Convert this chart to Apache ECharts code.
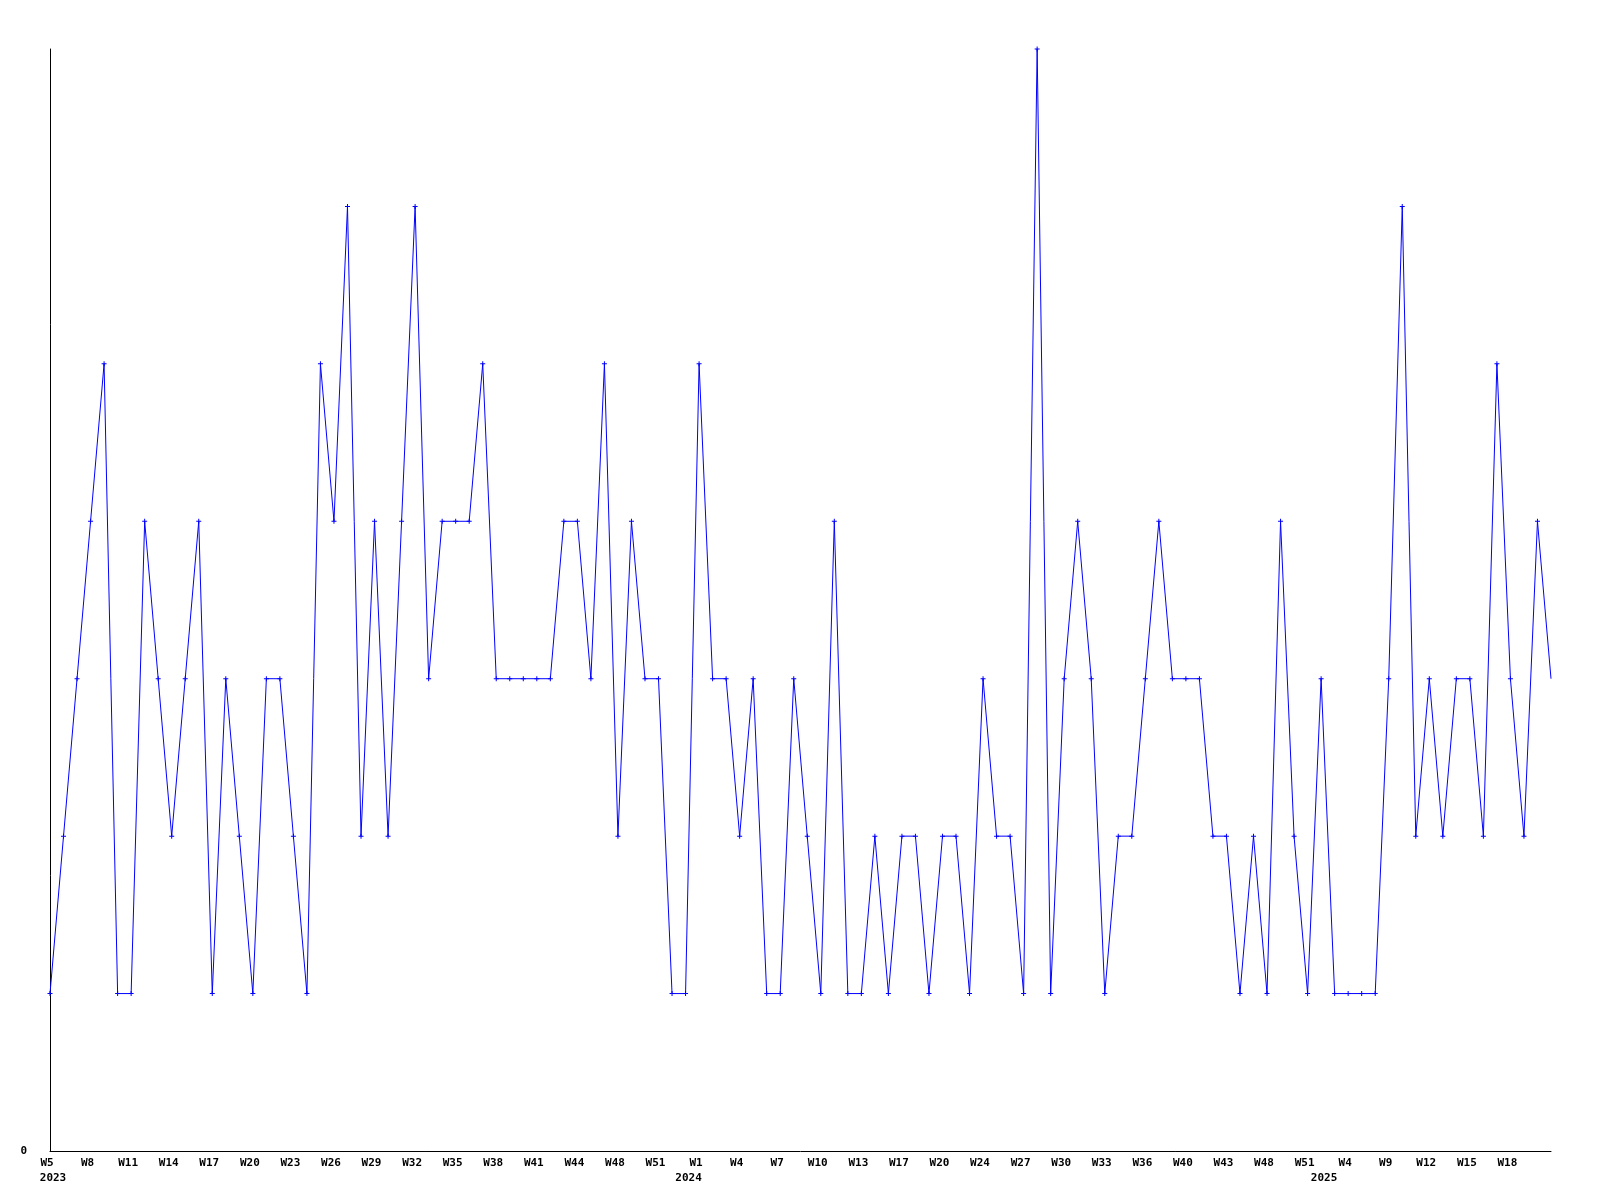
<!DOCTYPE html>
<html>
<head>
<meta charset="utf-8">
<script src="https://cdn.jsdelivr.net/npm/echarts@6/dist/echarts.min.js"></script>
<style>
html,body{margin:0;padding:0;background:#fff;}
#chart{width:1600px;height:1200px;}
</style>
</head>
<body>
<div id="chart"></div>
<script>
// Series values, one per point (112 points)
const values = [
  1,2,3,4,5,1,1,4,3,2,3,4,1,3,2,1,3,3,2,1,
  5,4,6,2,4,2,4,6,3,4,4,4,5,3,3,3,3,3,4,4,
  3,5,2,4,3,3,1,1,5,3,3,2,3,1,1,3,2,1,4,1,
  1,2,1,2,2,1,2,2,1,3,2,2,1,7,1,3,4,3,1,2,
  2,3,4,3,3,3,2,2,1,2,1,4,2,1,3,1,1,1,1,3,
  6,2,3,2,3,3,2,5,3,2,4,3
];
// Tick labels shown on every third point
const weekLabels = [
  'W5','W8','W11','W14','W17','W20','W23','W26','W29','W32','W35','W38','W41',
  'W44','W48','W51','W1','W4','W7','W10','W13','W17','W20','W24','W27','W30',
  'W33','W36','W40','W43','W48','W51','W4','W9','W12','W15','W18'
];
// Year labels and the point index where each appears
const yearLabels = ['2023','2024','2025'];
const yearIndex = [0, 47, 94];

const categories = values.map((v, i) => String(i));
const yearAt = {};
yearIndex.forEach((idx, k) => { yearAt[idx] = yearLabels[k]; });

const seriesData = values.map((v, i) =>
  i === values.length - 1 ? { value: v, symbol: 'none' } : v
);

const font = { fontFamily: 'DejaVu Sans Mono', fontSize: 11, fontWeight: 'bold', color: '#000' };

const chart = echarts.init(document.getElementById('chart'), null, { renderer: 'canvas' });
chart.setOption({
  backgroundColor: '#ffffff',
  animation: false,
  grid: { left: 50, right: 49, top: 49, bottom: 49, containLabel: false },
  xAxis: [
    {
      type: 'category',
      data: categories,
      boundaryGap: false,
      axisLine: { show: true, lineStyle: { color: '#000', width: 1 } },
      axisTick: { show: false },
      splitLine: { show: false },
      axisLabel: Object.assign({
        interval: 0,
        margin: 7,
        padding: [0, 6, 0, 0],
        formatter: (val, idx) => (idx % 3 === 0 ? weekLabels[idx / 3] || '' : '')
      }, font)
    },
    {
      type: 'category',
      data: categories,
      boundaryGap: false,
      position: 'bottom',
      offset: 15,
      axisLine: { show: false },
      axisTick: { show: false },
      splitLine: { show: false },
      axisLabel: Object.assign({
        interval: 0,
        margin: 7,
        padding: [0, 0, 0, 6],
        formatter: (val, idx) => yearAt[idx] || ''
      }, font)
    }
  ],
  yAxis: {
    type: 'value',
    min: 0,
    max: 7,
    interval: 7,
    axisLine: { show: true, lineStyle: { color: '#000', width: 1 } },
    axisTick: { show: false },
    splitLine: { show: false },
    axisLabel: Object.assign({
      margin: 23,
      formatter: v => (v === 0 ? '0' : '')
    }, font)
  },
  series: [{
    type: 'line',
    xAxisIndex: 0,
    data: seriesData,
    smooth: false,
    symbol: 'path://M2,0H3V2H5V3H3V5H2V3H0V2H2Z',
    symbolSize: 5,
    showAllSymbol: true,
    lineStyle: { color: '#0000ff', width: 1 },
    itemStyle: { color: '#0000ff' }
  }]
});
</script>
</body>
</html>
